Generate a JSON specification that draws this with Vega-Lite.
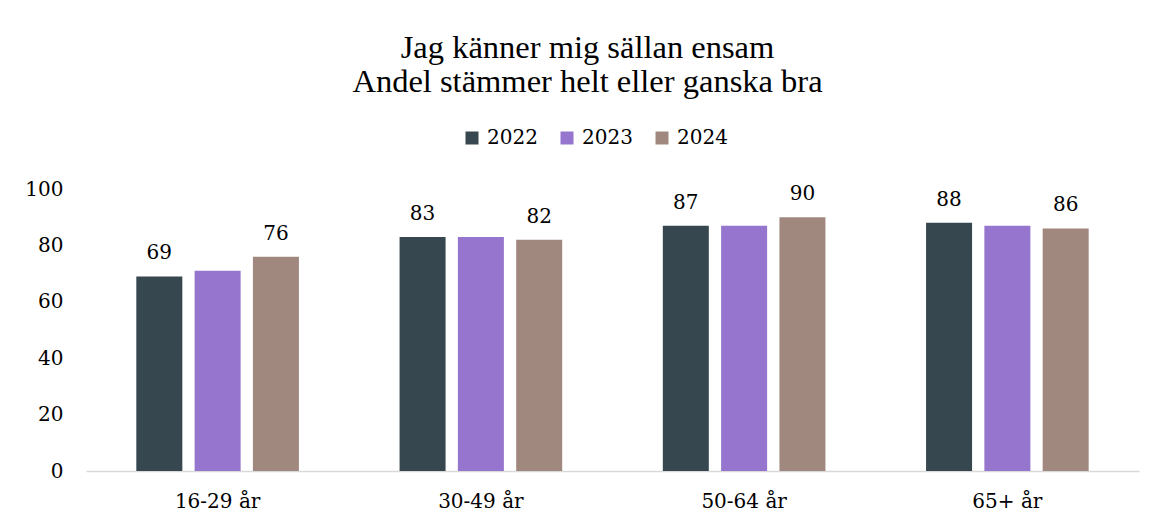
{
  "$schema": "https://vega.github.io/schema/vega-lite/v6.json",
  "width": 1053,
  "height": 282,
  "autosize": {"type": "none"},
  "padding": {"left": 86, "top": 189, "right": 16, "bottom": 53},
  "background": "white",
  "title": {
    "text": ["Jag känner mig sällan ensam", "Andel stämmer helt eller ganska bra"],
    "font": "Liberation Serif",
    "fontSize": 32.5,
    "fontWeight": "normal",
    "lineHeight": 34,
    "color": "black",
    "anchor": "middle",
    "dx": -25,
    "offset": 30
  },
  "data": {
    "values": [
      {"age": "16-29 år", "year": "2022", "value": 69},
      {"age": "16-29 år", "year": "2023", "value": 71},
      {"age": "16-29 år", "year": "2024", "value": 76},
      {"age": "30-49 år", "year": "2022", "value": 83},
      {"age": "30-49 år", "year": "2023", "value": 83},
      {"age": "30-49 år", "year": "2024", "value": 82},
      {"age": "50-64 år", "year": "2022", "value": 87},
      {"age": "50-64 år", "year": "2023", "value": 87},
      {"age": "50-64 år", "year": "2024", "value": 90},
      {"age": "65+ år", "year": "2022", "value": 88},
      {"age": "65+ år", "year": "2023", "value": 87},
      {"age": "65+ år", "year": "2024", "value": 86}
    ]
  },
  "encoding": {
    "x": {
      "field": "age",
      "type": "nominal",
      "sort": ["16-29 år", "30-49 år", "50-64 år", "65+ år"],
      "scale": {"paddingInner": 0, "paddingOuter": 0},
      "axis": {
        "title": null,
        "labelAngle": 0,
        "labelFont": "DejaVu Serif",
        "labelFontSize": 20,
        "labelColor": "black",
        "labelPadding": 20,
        "ticks": false,
        "domainColor": "#d9d9d9",
        "domainWidth": 1.5
      }
    },
    "xOffset": {
      "field": "year",
      "type": "nominal",
      "scale": {"paddingInner": 0.211, "paddingOuter": 0.863}
    },
    "y": {
      "field": "value",
      "type": "quantitative",
      "scale": {"domain": [0, 100], "nice": false},
      "axis": {
        "title": null,
        "values": [0, 20, 40, 60, 80, 100],
        "domain": false,
        "ticks": false,
        "grid": false,
        "labelFont": "DejaVu Serif",
        "labelFontSize": 20,
        "labelColor": "black",
        "labelPadding": 23
      }
    }
  },
  "layer": [
    {
      "mark": {"type": "bar"},
      "encoding": {
        "color": {
          "field": "year",
          "type": "nominal",
          "scale": {"domain": ["2022", "2023", "2024"], "range": ["#37474f", "#9575cd", "#a1887f"]},
          "legend": {
            "title": null,
            "orient": "none",
            "legendX": 376,
            "legendY": -61,
            "direction": "horizontal",
            "symbolType": "square",
            "symbolSize": 169,
            "symbolStrokeWidth": 0,
            "labelFont": "DejaVu Serif",
            "labelFontSize": 20,
            "labelColor": "black",
            "labelOffset": 5,
            "columnPadding": 19
          }
        }
      }
    },
    {
      "transform": [{"filter": "datum.year != '2023'"}],
      "mark": {
        "type": "text",
        "dy": -17,
        "baseline": "alphabetic",
        "font": "DejaVu Serif",
        "fontSize": 20,
        "color": "black"
      },
      "encoding": {"text": {"field": "value", "type": "quantitative"}}
    }
  ],
  "config": {"view": {"stroke": null}}
}
